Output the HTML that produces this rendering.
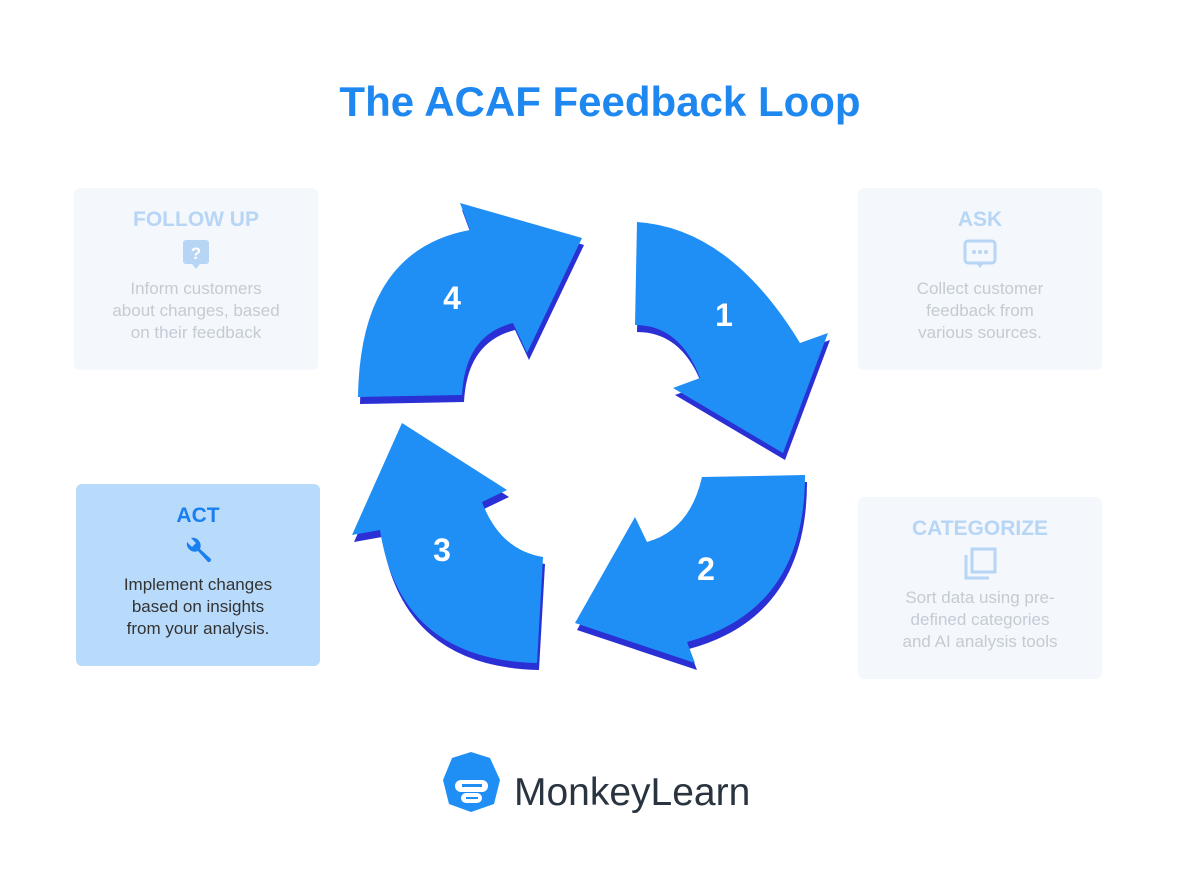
<!DOCTYPE html>
<html><head><meta charset="utf-8"><style>
body{margin:0;width:1200px;height:869px;background:#fff;font-family:"Liberation Sans",sans-serif;position:relative;overflow:hidden}
.t{position:absolute;left:0;width:1200px;top:78px;text-align:center;font-size:42px;font-weight:bold;color:#1e88f0}
.b{position:absolute;width:244px;height:182px;background:#f4f8fd;border-radius:6px;text-align:center}
.b h3{margin:20px 0 0;font-size:21px;font-weight:bold;color:#b7d5f5}
.b p{margin:8px 0 0;font-size:17px;line-height:22px;color:#c4cbd3}
.ic{height:32px;margin-top:6px}
</style></head><body>
<div class="t">The ACAF Feedback Loop</div>
<div class="b" style="left:74px;top:188px"><h3>FOLLOW UP</h3><div class="ic"><svg width="30" height="32"><rect x="2" y="2" width="26" height="24" rx="3" fill="#b7d5f5"/><path d="M11 26 L15 31 L19 26Z" fill="#b7d5f5"/><text x="15" y="21" font-size="17" font-weight="bold" fill="#fff" text-anchor="middle" font-family="Liberation Sans">?</text></svg></div><p>Inform customers<br>about changes, based<br>on their feedback</p></div>
<div class="b" style="left:858px;top:188px"><h3>ASK</h3><div class="ic"><svg width="34" height="32"><rect x="2" y="3" width="30" height="22" rx="3" fill="none" stroke="#b7d5f5" stroke-width="3"/><path d="M13 25 L17 30 L21 25Z" fill="#b7d5f5"/><circle cx="11" cy="14" r="2" fill="#b7d5f5"/><circle cx="17" cy="14" r="2" fill="#b7d5f5"/><circle cx="23" cy="14" r="2" fill="#b7d5f5"/></svg></div><p>Collect customer<br>feedback from<br>various sources.</p></div>
<div class="b" style="left:858px;top:497px"><h3>CATEGORIZE</h3><div class="ic"><svg width="34" height="34"><rect x="9" y="2" width="23" height="23" fill="none" stroke="#b7d5f5" stroke-width="3"/><path d="M3 8 V31 H26" fill="none" stroke="#b7d5f5" stroke-width="3"/></svg></div><p>Sort data using pre-<br>defined categories<br>and AI analysis tools</p></div>
<div class="b" style="left:76px;top:484px;background:#b9dbfb"><h3 style="color:#1a7ff0">ACT</h3><div class="ic"><svg width="34" height="34"><path d="M6 8 a8 8 0 0 0 11 9 L27 28 a2.5 2.5 0 0 0 3 -3 L19 15 a8 8 0 0 0 -9 -11 L15 9 L11 13Z" fill="#1a7ff0"/></svg></div><p style="color:#333">Implement changes<br>based on insights<br>from your analysis.</p></div>
<svg width="1200" height="869" style="position:absolute;left:0;top:0">
<defs>
<path id="a1" d="M637 222 Q730 228 800 343 L828 333 L783 453 L673 388 L700 378 Q680 325 635 325Z"/>
<path id="a2" d="M702 477 L805 475 Q805 610 687 642 L695 663 L575 623 L635 517 L647 542 Q690 530 702 477Z"/>
<path id="a3" d="M543 557 L537 663 Q400 660 380 530 L352 535 L402 423 L507 490 L482 502 Q500 550 543 557Z"/>
<path id="a4" d="M358 397 Q360 250 470 230 L460 203 L582 238 L527 353 L513 323 Q465 335 462 395Z"/>
</defs>
<g fill="#2a30d4" transform="translate(2,7)"><use href="#a1"/><use href="#a2"/><use href="#a3"/><use href="#a4"/></g>
<g fill="#1f8ff5"><use href="#a1"/><use href="#a2"/><use href="#a3"/><use href="#a4"/></g>
<g fill="#fff" font-size="32" font-weight="bold" font-family="Liberation Sans" text-anchor="middle">
<text x="724" y="326">1</text><text x="706" y="580">2</text><text x="442" y="561">3</text><text x="452" y="309">4</text></g>
<path d="M471 752 L490 758 L500 780 L494 804 L471 812 L449 804 L443 780 L452 758Z" fill="#1f8ff5"/>
<rect x="455" y="780" width="33" height="12" rx="6" fill="#fff"/><rect x="461" y="793" width="21" height="10" rx="5" fill="#fff"/>
<rect x="462" y="784" width="20" height="3" fill="#1f8ff5"/><rect x="466" y="797" width="12" height="2" fill="#1f8ff5"/>
<text x="514" y="805" font-size="39" fill="#2a3440" font-family="Liberation Sans">MonkeyLearn</text>
</svg>
</body></html>
